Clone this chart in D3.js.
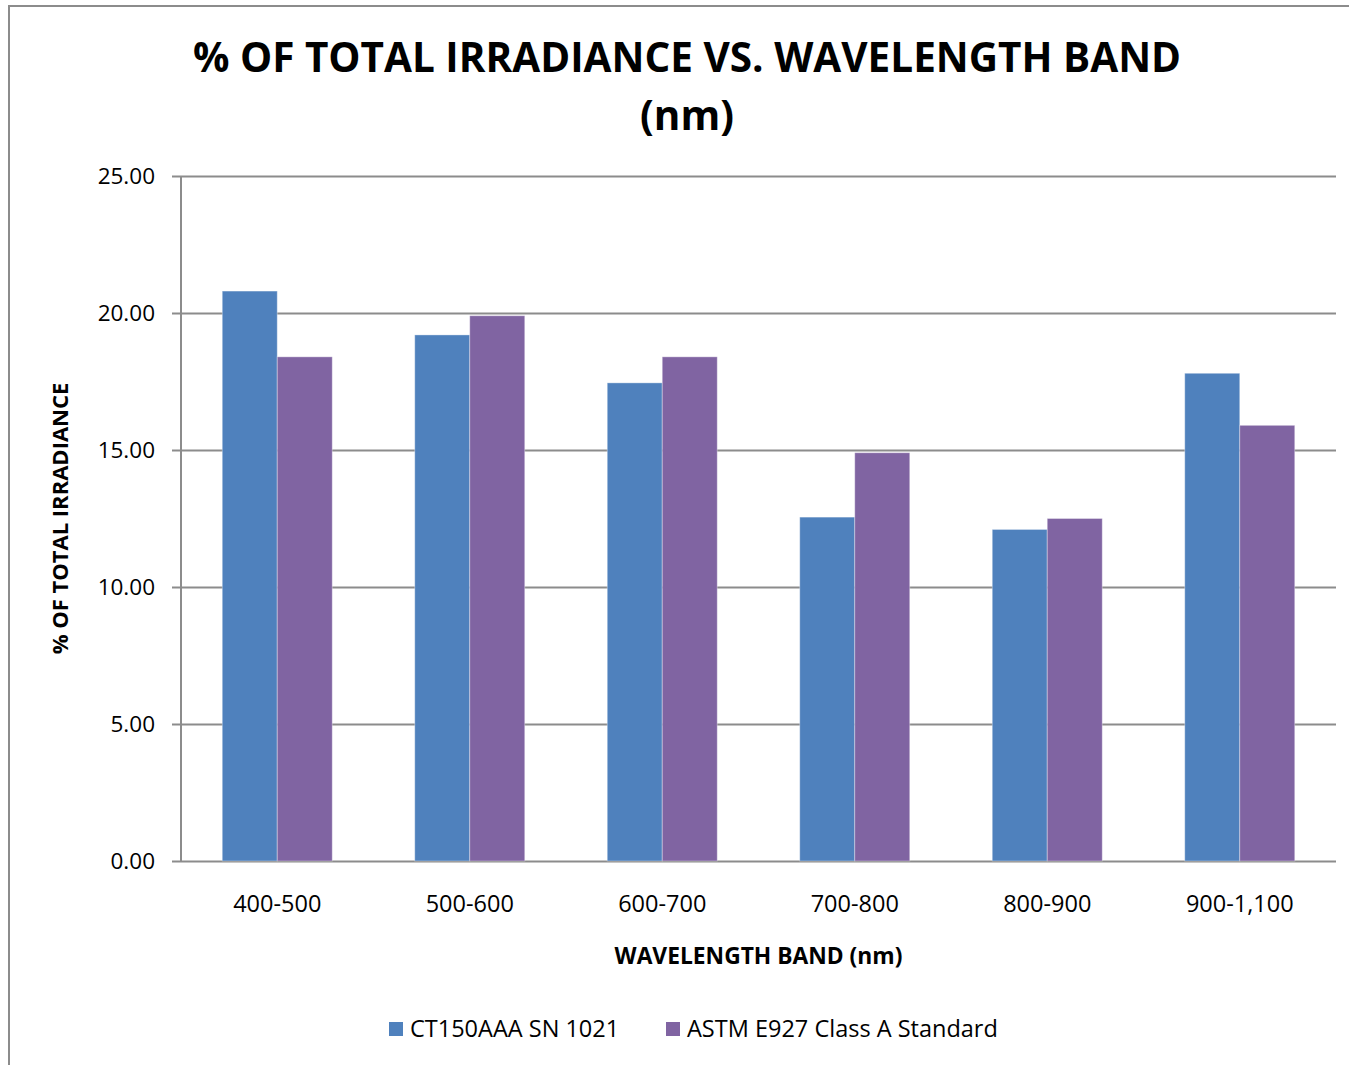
<!DOCTYPE html>
<meta charset="utf-8">
<head>
<style>
  * { margin: 0; padding: 0; }
  body { background: #fff; }
  svg { display: block; font-family: "Open Sans", sans-serif; }
</style>
</head>
<body>
<svg id="chart" width="1349" height="1065"></svg>
<script src="https://cdn.jsdelivr.net/npm/d3@7"></script>
<script>
// data
var bands = ["400-500", "500-600", "600-700", "700-800", "800-900", "900-1,100"];
var seriesNames = ["CT150AAA SN 1021", "ASTM E927 Class A Standard"];
var ct150 = [20.8, 19.2, 17.45, 12.55, 12.1, 17.8];
var astm = [18.4, 19.9, 18.4, 14.9, 12.5, 15.9];
var yTicks = [0, 5, 10, 15, 20, 25];
var colors = ["#4F81BD", "#8064A2"];

var svg = d3.select("#chart");

// outer chart frame (runs off right/bottom like the screenshot)
svg.append("rect")
    .attr("x", 9).attr("y", 6)
    .attr("width", 1400).attr("height", 1100)
    .attr("fill", "none")
    .attr("stroke", "#8c8c8c")
    .attr("stroke-width", 2);

var pLeft = 181, pRight = 1336, pTop = 176, pBottom = 861;

var x = d3.scaleBand()
    .domain(bands)
    .range([pLeft, pRight])
    .paddingInner(3 / 7)
    .paddingOuter(1.5 / 7);

var xs = d3.scaleBand()
    .domain([0, 1])
    .range([0, x.bandwidth()]);

var y = d3.scaleLinear()
    .domain([0, 25])
    .range([pBottom, pTop]);

// gridlines + little ticks to the left of the axis
var yAxis = d3.axisLeft(y)
    .tickValues(yTicks)
    .tickSize(-(pRight - pLeft))
    .tickPadding(0)
    .tickFormat(d3.format(".2f"));

var gy = svg.append("g")
    .attr("transform", "translate(" + pLeft + ",0)")
    .call(yAxis);
gy.select(".domain").remove();
gy.selectAll(".tick line")
    .attr("x1", -9)
    .attr("stroke", "#8c8c8c")
    .attr("stroke-width", 2);
gy.selectAll(".tick text")
    .attr("x", -26)
    .attr("fill", "#000")
    .style("font-size", "22.5px")
    .style("font-family", "'Open Sans', sans-serif");

// bars
var data = [ct150, astm];
var groups = svg.selectAll("g.series")
    .data(data)
    .enter().append("g")
    .attr("class", "series")
    .attr("fill", function(d, i) { return colors[i]; });

groups.each(function(vals, si) {
    d3.select(this).selectAll("rect")
        .data(vals)
        .enter().append("rect")
        .attr("x", function(d, i) { return x(bands[i]) + xs(si); })
        .attr("y", function(d) { return y(d); })
        .attr("width", xs.bandwidth())
        .attr("height", function(d) { return y(0) - y(d); })
        .attr("stroke", "rgba(255,255,255,0.35)")
        .attr("stroke-width", 1);
});

// y axis line
svg.append("line")
    .attr("x1", pLeft).attr("x2", pLeft)
    .attr("y1", pTop).attr("y2", pBottom)
    .attr("stroke", "#8c8c8c").attr("stroke-width", 2);

var xAxis = d3.axisBottom(x).tickSize(0).tickPadding(34);
var gx = svg.append("g")
    .attr("transform", "translate(0," + pBottom + ")")
    .call(xAxis);
gx.select(".domain").remove();
gx.selectAll(".tick text")
    .attr("fill", "#000")
    .style("font-size", "23.5px")
    .style("font-family", "'Open Sans', sans-serif");

// titles
var title = svg.append("text")
    .attr("text-anchor", "middle")
    .attr("font-weight", "bold")
    .style("font-size", "40.5px");
title.append("tspan").attr("x", 687).attr("y", 72)
    .text("% OF TOTAL IRRADIANCE VS. WAVELENGTH BAND");
title.append("tspan").attr("x", 687).attr("y", 130)
    .text("(nm)");

svg.append("text")
    .attr("x", (pLeft + pRight) / 2).attr("y", 964)
    .attr("text-anchor", "middle")
    .attr("font-weight", "bold")
    .style("font-size", "22.8px")
    .text("WAVELENGTH BAND (nm)");

svg.append("text")
    .attr("transform", "translate(68," + (pTop + pBottom) / 2 + ") rotate(-90)")
    .attr("text-anchor", "middle")
    .attr("font-weight", "bold")
    .style("font-size", "22px")
    .text("% OF TOTAL IRRADIANCE");

// legend
var legendX = [389, 666];
var legend = svg.selectAll("g.legend")
    .data(seriesNames)
    .enter().append("g")
    .attr("class", "legend")
    .attr("transform", function(d, i) { return "translate(" + legendX[i] + ",1022)"; });
legend.append("rect")
    .attr("width", 14).attr("height", 14)
    .attr("fill", function(d, i) { return colors[i]; });
legend.append("text")
    .attr("x", 21).attr("y", 15)
    .style("font-size", "23.5px")
    .text(function(d) { return d; });
</script>
</body>
